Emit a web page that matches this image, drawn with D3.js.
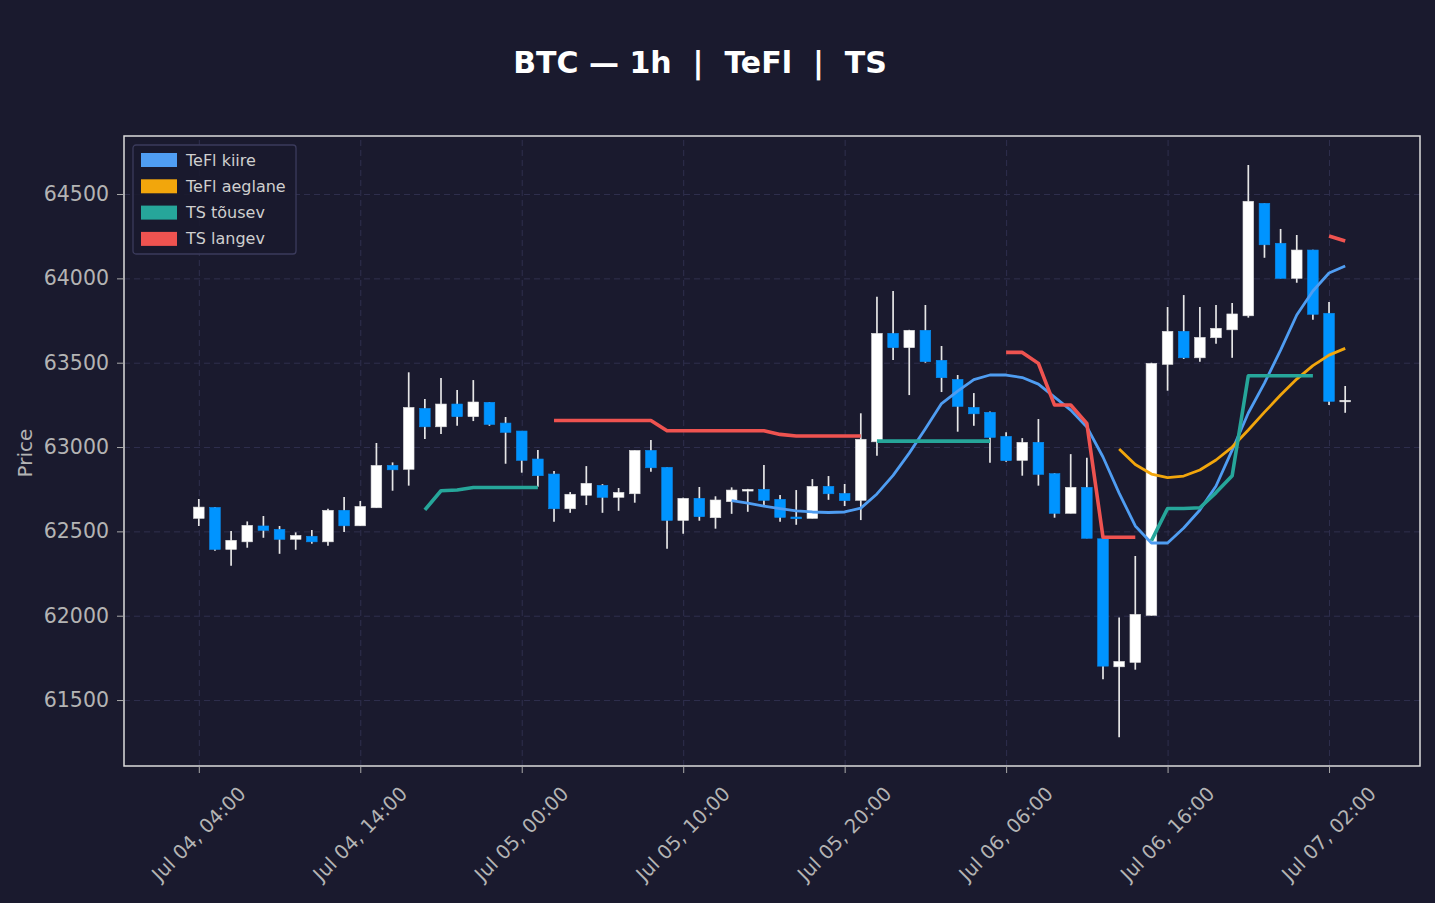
<!DOCTYPE html>
<html lang="en">

<head>
    <script src="https://d3js.org/d3.v7.min.js"></script>
    <style>
        body {
            margin: 0;
            background: #1a1a2e;
        }

        svg text {
            font-family: "DejaVu Sans", sans-serif;
        }

        .gridlines line {
            stroke: #2f2f4e;
            stroke-dasharray: 6, 4;
        }

        .gridlines .domain {
            stroke: none;
        }
    </style>
</head>

<body>
    <svg id="chart" width="1435" height="903"></svg>

    <script>
        // hourly candles, first one Jul 04 04:00
        const startTime = new Date(Date.UTC(2024, 6, 4, 4, 0));

        const opens = [62577, 62642, 62393, 62438, 62532, 62512, 62453, 62471, 62438, 62625,
            62533, 62640, 62891, 62868, 63229, 63120, 63255, 63180, 63265, 63142,
            63095, 62929, 62840, 62634, 62714, 62773, 62702, 62723, 62980, 62880,
            62565, 62696, 62581, 62676, 62739, 62749, 62690, 62585, 62577, 62767,
            62725, 62684, 63031, 63674, 63589, 63692, 63514, 63401, 63235, 63206,
            63063, 62921, 63028, 62842, 62607, 62761, 62456, 61697, 61723, 62002,
            63490, 63686, 63529, 63648, 63695, 63778, 64445, 64208, 64000, 64168,
            63793, 63271];
        const highs = [62692, 62645, 62502, 62559, 62591, 62532, 62494, 62508, 62634, 62704,
            62680, 63024, 62909, 63443, 63285, 63409, 63338, 63397, 63267, 63178,
            63095, 62982, 62858, 62733, 62887, 62780, 62757, 62980, 63041, 62880,
            62700, 62763, 62708, 62761, 62752, 62893, 62715, 62745, 62810, 62828,
            62781, 63200, 63891, 63925, 63695, 63842, 63599, 63427, 63320, 63210,
            63087, 63053, 63166, 62845, 62958, 62936, 62456, 61990, 62354, 63500,
            63830, 63901, 63830, 63842, 63854, 64672, 64445, 64293, 64257, 64170,
            63860, 63362];
        const lows = [62532, 62385, 62296, 62403, 62462, 62367, 62391, 62427, 62415, 62496,
            62533, 62640, 62741, 62771, 63047, 63077, 63126, 63154, 63126, 62901,
            62848, 62765, 62557, 62610, 62656, 62610, 62622, 62670, 62853, 62397,
            62486, 62563, 62516, 62604, 62616, 62650, 62557, 62539, 62577, 62687,
            62650, 62567, 62948, 63516, 63308, 63500, 63326, 63091, 63126, 62907,
            62913, 62830, 62771, 62581, 62607, 62459, 61623, 61279, 61680, 62000,
            63334, 63522, 63506, 63612, 63529, 63767, 64122, 64000, 63974, 63755,
            63249, 63203];
        const closes = [62644, 62393, 62447, 62536, 62506, 62453, 62476, 62438, 62625, 62533,
            62648, 62891, 62865, 63235, 63120, 63255, 63180, 63267, 63134, 63087,
            62921, 62830, 62634, 62720, 62785, 62702, 62731, 62980, 62877, 62565,
            62696, 62587, 62686, 62745, 62749, 62684, 62583, 62575, 62767, 62723,
            62682, 63046, 63674, 63589, 63692, 63506, 63411, 63241, 63197, 63057,
            62919, 63028, 62838, 62607, 62761, 62459, 61701, 61729, 62008, 63496,
            63686, 63529, 63650, 63704, 63789, 64457, 64199, 64000, 64168, 63787,
            63271, 63277];

        const teflKiire = [...Array(33).fill(null),
            62682, 62668, 62650, 62635, 62621, 62615, 62612, 62615, 62638, 62722,
            62832, 62964, 63108, 63258, 63332, 63400, 63427, 63427, 63412, 63373,
            63296, 63219, 63119, 62941, 62727, 62532, 62431, 62431, 62520, 62627,
            62769, 62982, 63202, 63379, 63575, 63783, 63925, 64032, 64073];
        const teflAeglane = [...Array(57).fill(null),
            62988, 62896, 62840, 62819, 62828, 62864, 62923, 63000, 63101, 63207,
            63308, 63403, 63483, 63545, 63585];
        const tsTousev = [...Array(14).fill(null),
            62627, 62741, 62745, 62760, 62760, 62760, 62760, 62760,
            ...Array(20).fill(null),
            63035, 63035, 63035, 63035, 63035, 63035, 63035, 63035,
            ...Array(9).fill(null),
            62444, 62636, 62636, 62640, 62730, 62830, 63423, 63423, 63423, 63423, 63423,
            null, null];
        const tsLangev = [...Array(22).fill(null),
            63157, 63157, 63157, 63157, 63157, 63157, 63157,
            63097, 63097, 63097, 63097, 63097, 63097, 63097,
            63075, 63065, 63065, 63065, 63065, 63065,
            ...Array(8).fill(null),
            63561, 63561, 63496, 63249, 63249, 63140, 62465, 62465, 62465,
            ...Array(11).fill(null),
            64251, 64221];

        const yTicks = [61500, 62000, 62500, 63000, 63500, 64000, 64500];
        const xTickIdx = [0, 10, 20, 30, 40, 50, 60, 70];

        const legendItems = [
            { name: "TeFl kiire", color: "#4f9df2" },
            { name: "TeFl aeglane", color: "#f2a60c" },
            { name: "TS tõusev", color: "#26a69a" },
            { name: "TS langev", color: "#ef5350" }
        ];

        const upColor = "#ffffff";
        const downColor = "#0094ff";

        const svg = d3.select("svg#chart");
        const plot = { left: 124, right: 1420, top: 136, bottom: 766 };

        const times = opens.map((d, i) => d3.utcHour.offset(startTime, i));

        const x = d3.scaleUtc()
            .domain([d3.utcMinute.offset(times[0], -278), d3.utcMinute.offset(times[times.length - 1], 278)])
            .range([plot.left, plot.right]);
        const y = d3.scaleLinear()
            .domain([61109, 64844])
            .range([plot.bottom, plot.top]);

        svg.append("rect")
            .attr("width", 1435).attr("height", 903)
            .attr("fill", "#1a1a2e");

        // title
        svg.append("text")
            .attr("x", 700).attr("y", 73)
            .attr("text-anchor", "middle")
            .attr("fill", "white")
            .attr("font-weight", "bold")
            .attr("font-size", 30)
            .attr("xml:space", "preserve")
            .style("white-space", "pre")
            .text("BTC — 1h  |  TeFl  |  TS");

        // grid
        const xTickVals = xTickIdx.map(i => times[i]);
        svg.append("g")
            .attr("class", "gridlines")
            .attr("transform", `translate(0,${plot.bottom})`)
            .call(d3.axisBottom(x).tickValues(xTickVals).tickSize(-(plot.bottom - plot.top)).tickFormat(""));
        svg.append("g")
            .attr("class", "gridlines")
            .attr("transform", `translate(${plot.left},0)`)
            .call(d3.axisLeft(y).tickValues(yTicks).tickSize(-(plot.right - plot.left)).tickFormat(""));

        // candles
        const step = x(times[1]) - x(times[0]);
        const bodyW = step * 0.66;
        const candles = svg.append("g");
        opens.forEach((o, i) => {
            const c = closes[i];
            const cx = x(times[i]);
            const col = c >= o ? upColor : downColor;
            candles.append("line")
                .attr("x1", cx).attr("x2", cx)
                .attr("y1", y(highs[i])).attr("y2", y(lows[i]))
                .attr("stroke", "#e6e6e6")
                .attr("stroke-width", 1.7);
            const top = y(Math.max(o, c));
            const h = Math.max(1.5, y(Math.min(o, c)) - top);
            candles.append("rect")
                .attr("x", cx - bodyW / 2)
                .attr("y", top)
                .attr("width", bodyW)
                .attr("height", h)
                .attr("fill", col)
                .attr("stroke", col === upColor ? "#dddddd" : "#0a8cf0")
                .attr("stroke-width", 0.6);
        });

        // indicator lines
        const lineGen = d3.line()
            .defined(d => d != null)
            .x((d, i) => x(times[i]))
            .y(d => y(d));

        const series = [
            { data: teflKiire, color: legendItems[0].color, w: 2.8 },
            { data: teflAeglane, color: legendItems[1].color, w: 2.8 },
            { data: tsTousev, color: legendItems[2].color, w: 3.6 },
            { data: tsLangev, color: legendItems[3].color, w: 3.6 }
        ];
        series.forEach(s => {
            svg.append("path")
                .datum(s.data)
                .attr("fill", "none")
                .attr("stroke", s.color)
                .attr("stroke-width", s.w)
                .attr("stroke-linejoin", "round")
                .attr("d", lineGen);
        });

        // frame
        svg.append("rect")
            .attr("x", plot.left).attr("y", plot.top)
            .attr("width", plot.right - plot.left)
            .attr("height", plot.bottom - plot.top)
            .attr("fill", "none")
            .attr("stroke", "#dcdcdc")
            .attr("stroke-width", 1.5);

        // axes
        const yAxis = svg.append("g")
            .attr("transform", `translate(${plot.left},0)`)
            .call(d3.axisLeft(y).tickValues(yTicks).tickSize(7).tickPadding(8).tickFormat(d3.format("d")));
        yAxis.select(".domain").remove();
        yAxis.selectAll(".tick line").attr("stroke", "#aaaaaa");
        yAxis.selectAll(".tick text")
            .attr("fill", "#b4b4b4")
            .attr("font-size", 20.5)
            .attr("font-family", "DejaVu Sans");

        const xAxis = svg.append("g")
            .attr("transform", `translate(0,${plot.bottom})`)
            .call(d3.axisBottom(x).tickValues(xTickVals).tickSize(7).tickFormat(""));
        xAxis.select(".domain").remove();
        xAxis.selectAll(".tick line").attr("stroke", "#aaaaaa");

        const fmt = d3.utcFormat("%b %d, %H:%M");
        xTickVals.forEach(t => {
            svg.append("text")
                .attr("transform", `translate(${x(t)},834) rotate(-45)`)
                .attr("text-anchor", "middle")
                .attr("dominant-baseline", "central")
                .attr("fill", "#b4b4b4")
                .attr("font-size", 19.5)
                .text(fmt(t));
        });

        svg.append("text")
            .attr("transform", `translate(32,453) rotate(-90)`)
            .attr("text-anchor", "middle")
            .attr("fill", "#b4b4b4")
            .attr("font-size", 20)
            .text("Price");

        // legend
        const legend = svg.append("g").attr("transform", "translate(133,145)");
        legend.append("rect")
            .attr("width", 163).attr("height", 109)
            .attr("rx", 3)
            .attr("fill", "#1a1a2e")
            .attr("fill-opacity", 0.9)
            .attr("stroke", "#3b3b5c")
            .attr("stroke-width", 1.3);
        legendItems.forEach((d, i) => {
            const row = legend.append("g").attr("transform", `translate(0,${15 + i * 26.3})`);
            row.append("rect")
                .attr("x", 8).attr("y", -7)
                .attr("width", 36).attr("height", 14)
                .attr("fill", d.color);
            row.append("text")
                .attr("x", 53).attr("y", 0)
                .attr("dominant-baseline", "central")
                .attr("fill", "#cfcfcf")
                .attr("font-size", 16)
                .text(d.name);
        });
    </script>
</body>

</html>
